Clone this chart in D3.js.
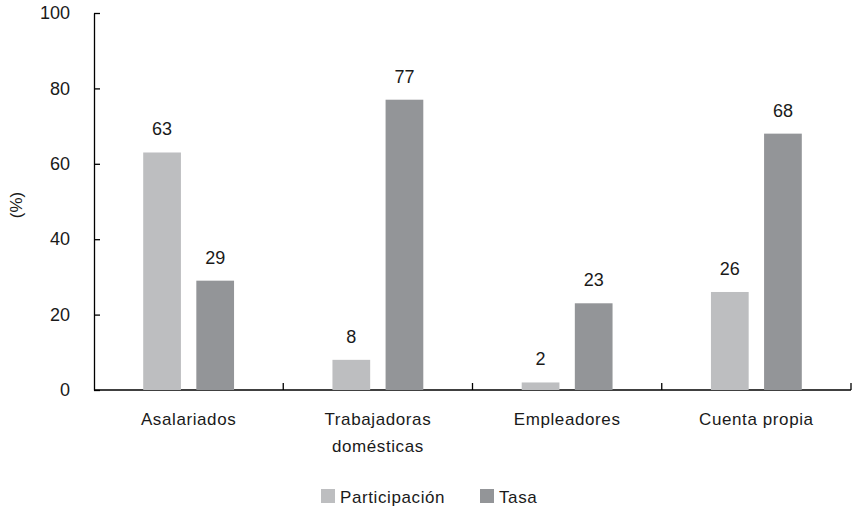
<!DOCTYPE html>
<html>
<head>
<meta charset="utf-8">
<script src="https://cdn.jsdelivr.net/npm/d3@7"></script>
<style>
  body { margin: 0; background: #fff; }
  text { font-family: "Liberation Sans", Arial, sans-serif; fill: #1a1a1a; }
</style>
</head>
<body>
<svg id="chart"></svg>
<script>
// data
const categories = [["Asalariados"], ["Trabajadoras", "domésticas"], ["Empleadores"], ["Cuenta propia"]];
const seriesNames = ["Participación", "Tasa"];
const participacion = [63, 8, 2, 26];
const tasa = [29, 77, 23, 68];
const yTicks = [0, 20, 40, 60, 80, 100];
const colors = ["#bdbec0", "#939598"];

const width = 852, height = 507;
const margin = {top: 13, right: 1, bottom: 117, left: 94};
const innerW = width - margin.left - margin.right;
const innerH = height - margin.top - margin.bottom;

const svg = d3.select("#chart").attr("width", width).attr("height", height);
const chart = svg.append("g").attr("transform", `translate(${margin.left},${margin.top})`);

const catKeys = categories.map(c => c.join(" "));
const x = d3.scaleBand().domain(catKeys).range([0, innerW]).padding(0);
const y = d3.scaleLinear().domain([0, 100]).range([innerH, 0]);

// two bars per category, centred in the band
const groupW = x.bandwidth() * 0.48;
const x1 = d3.scaleBand().domain(seriesNames)
    .range([(x.bandwidth() - groupW) / 2, (x.bandwidth() + groupW) / 2])
    .paddingInner(0.29);

const rows = catKeys.map((k, i) => ({key: k, values: [participacion[i], tasa[i]]}));

// y axis
const yAxis = d3.axisLeft(y).tickValues(yTicks).tickSizeInner(-6).tickSizeOuter(0).tickPadding(24);
const yg = chart.append("g").call(yAxis);
yg.selectAll("path, line").attr("stroke", "#000").attr("stroke-width", 1.3);
yg.selectAll("text").style("font-size", "18px").attr("fill", "#1a1a1a");

// x axis line and boundary ticks
chart.append("line")
    .attr("x1", 0).attr("x2", innerW)
    .attr("y1", innerH).attr("y2", innerH)
    .attr("stroke", "#000").attr("stroke-width", 1.3);
const bounds = catKeys.map(k => x(k)).concat([x(catKeys[catKeys.length - 1]) + x.bandwidth()]).slice(1);
chart.selectAll(".xtick").data(bounds).enter().append("line")
    .attr("x1", d => d).attr("x2", d => d)
    .attr("y1", innerH).attr("y2", innerH - 7)
    .attr("stroke", "#000").attr("stroke-width", 1.3);

// bars
const groups = chart.selectAll(".grp").data(rows).enter().append("g")
    .attr("transform", d => `translate(${x(d.key)},0)`);

groups.selectAll("rect").data(d => d.values.map((v, j) => ({s: seriesNames[j], v, j})))
    .enter().append("rect")
    .attr("x", d => x1(d.s))
    .attr("width", x1.bandwidth())
    .attr("y", d => y(d.v))
    .attr("height", d => innerH - y(d.v))
    .attr("fill", d => colors[d.j]);

groups.selectAll(".lbl").data(d => d.values.map((v, j) => ({s: seriesNames[j], v})))
    .enter().append("text")
    .attr("x", d => x1(d.s) + x1.bandwidth() / 2)
    .attr("y", d => y(d.v) - 17)
    .attr("text-anchor", "middle")
    .style("font-size", "18px")
    .text(d => d.v);

// category labels
const catLabels = chart.selectAll(".cat").data(categories).enter().append("text")
    .attr("text-anchor", "middle")
    .attr("x", (d, i) => x(catKeys[i]) + x.bandwidth() / 2)
    .attr("y", innerH + 35)
    .style("font-size", "17px")
    .style("letter-spacing", "0.6px");
catLabels.selectAll("tspan").data(d => d).enter().append("tspan")
    .attr("x", function() { return this.parentNode.getAttribute("x"); })
    .attr("dy", (d, i) => i === 0 ? 0 : 27)
    .text(d => d);

// y title
svg.append("text")
    .attr("transform", "translate(22,205) rotate(-90)")
    .attr("text-anchor", "middle")
    .style("font-size", "17px")
    .text("(%)");

// legend
const legendX = [321, 480];
const legend = svg.selectAll(".leg").data(seriesNames).enter().append("g")
    .attr("transform", (d, i) => `translate(${legendX[i]},489)`);
legend.append("rect").attr("width", 14).attr("height", 14).attr("fill", (d, i) => colors[i]);
legend.append("text").attr("x", 19).attr("y", 14)
    .style("font-size", "17px").style("letter-spacing", "0.6px")
    .text(d => d);
</script>
</body>
</html>
